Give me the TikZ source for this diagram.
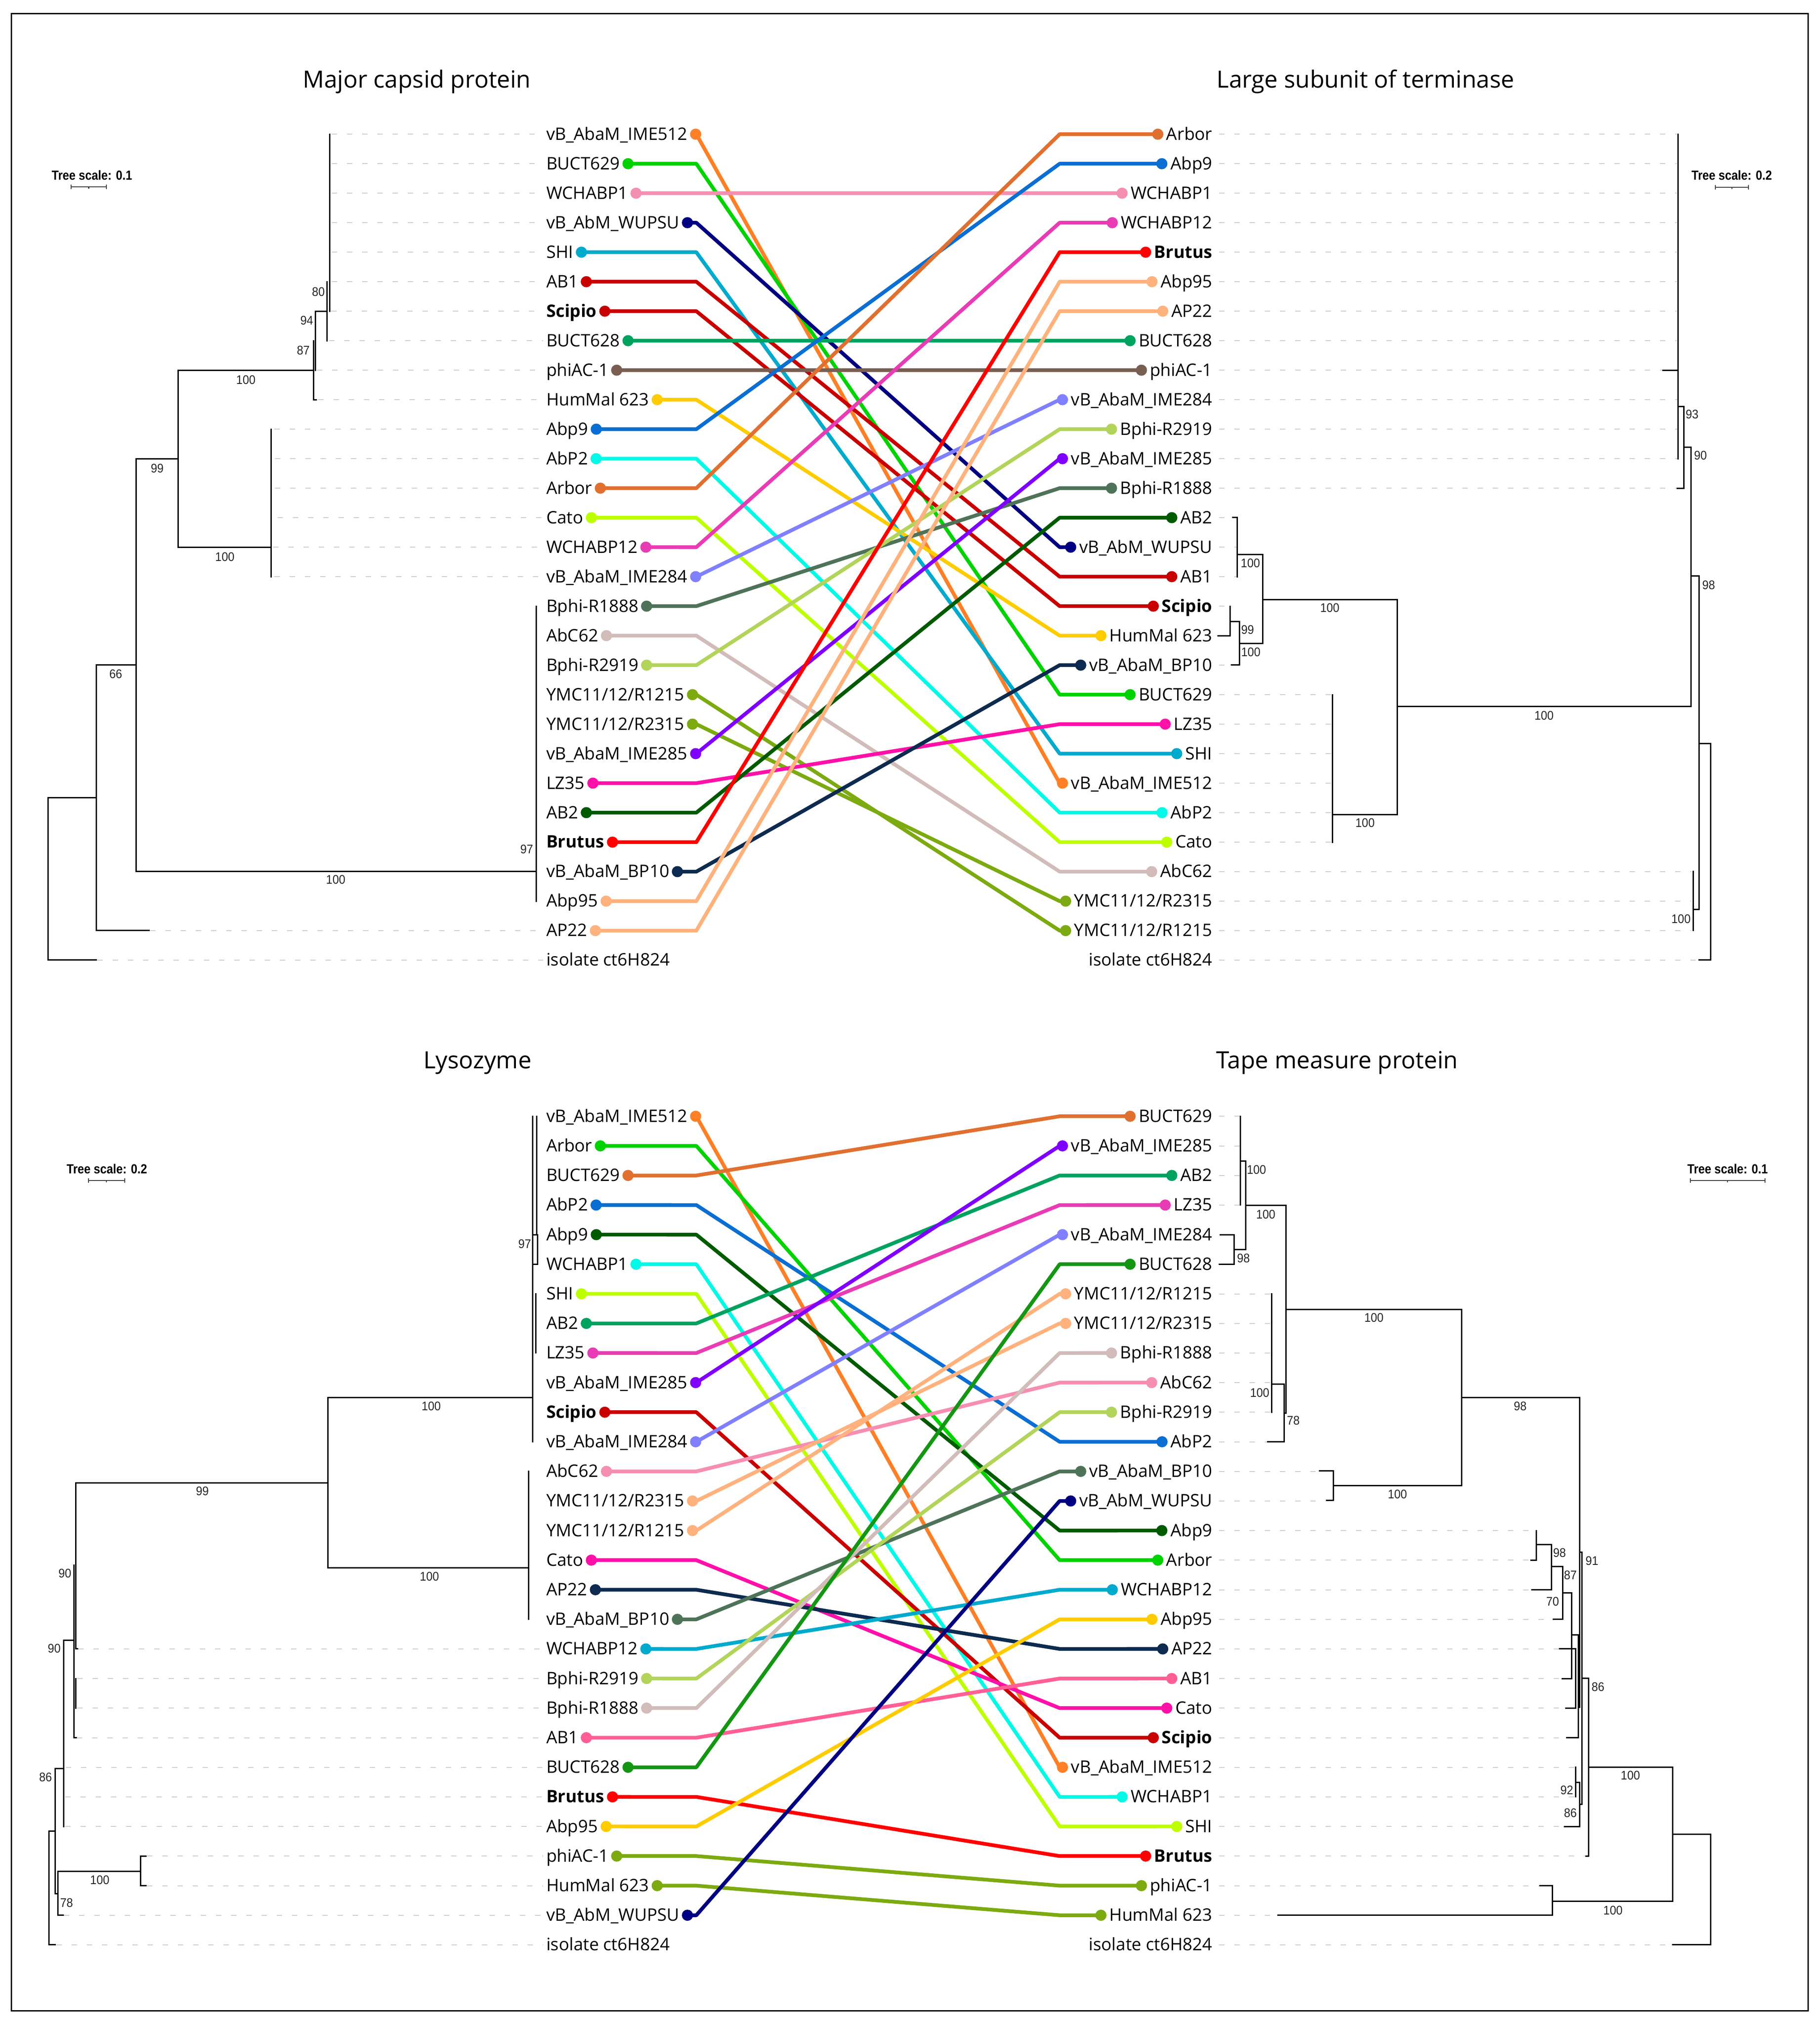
\documentclass[tikz,border=0pt]{standalone}
\usepackage{fontspec}
\setmainfont{Open Sans}
\newfontfamily\bootfam{Liberation Sans}[FakeStretch=0.92]
\newfontfamily\scalefam{Liberation Sans}[FakeStretch=0.88]
\usetikzlibrary{calc}
\pgfmathdeclarefunction{rowT}{1}{\pgfmathparse{104+22.857*#1}}
\pgfmathdeclarefunction{rowB}{1}{\pgfmathparse{865+22.93*#1}}
\newcommand\labfont{\fontsize{38.5}{44}\selectfont}
\newcommand\titfont{\fontsize{53}{60}\selectfont}
\newcommand\bootfont{\bootfam\fontsize{28}{30}\selectfont}
\newcommand\scalefont{\scalefam\bfseries\fontsize{29.5}{32}\selectfont}
\definecolor{cOrange}{RGB}{255,127,39}
\definecolor{cGreen}{RGB}{0,210,0}
\definecolor{cPink}{RGB}{245,143,178}
\definecolor{cNavy}{RGB}{0,0,128}
\definecolor{cSky}{RGB}{0,170,205}
\definecolor{cDarkRed}{RGB}{200,0,0}
\definecolor{cTeal}{RGB}{0,162,96}
\definecolor{cBrown}{RGB}{121,94,82}
\definecolor{cYellow}{RGB}{255,204,0}
\definecolor{cBlue}{RGB}{10,110,210}
\definecolor{cAqua}{RGB}{0,250,230}
\definecolor{cBurnt}{RGB}{224,112,48}
\definecolor{cLime}{RGB}{190,255,0}
\definecolor{cMagenta}{RGB}{232,60,180}
\definecolor{cPeri}{RGB}{128,128,255}
\definecolor{cGrayGreen}{RGB}{78,115,88}
\definecolor{cTaupe}{RGB}{210,188,186}
\definecolor{cOlive}{RGB}{178,212,90}
\definecolor{cOliveDark}{RGB}{124,170,16}
\definecolor{cViolet}{RGB}{127,0,255}
\definecolor{cHot}{RGB}{255,16,168}
\definecolor{cDarkGreen}{RGB}{0,90,0}
\definecolor{cRed}{RGB}{255,0,0}
\definecolor{cDeepNavy}{RGB}{13,42,79}
\definecolor{cPeach}{RGB}{255,178,125}
\definecolor{cRose}{RGB}{255,95,150}
\definecolor{cGreen2}{RGB}{20,150,20}
\definecolor{dashgray}{RGB}{205,205,205}
\begin{document}
\begin{tikzpicture}[x=2.887pt,y=-2.887pt,
  tree/.style={line width=3pt,black,line cap=rect},
  tipdash/.style={line width=2pt,dashgray,dash pattern=on 12pt off 22pt},
  conn/.style={line width=8.3pt,line join=round,draw=#1},
  lab/.style={font=\labfont,inner sep=0pt,anchor=base west},
  rlab/.style={font=\labfont,inner sep=0pt,anchor=base east},
  boot/.style={font=\bootfont,inner sep=0pt,text=black!85},
  title/.style={font=\titfont,inner sep=0pt,anchor=base},
  sclab/.style={font=\scalefont,inner sep=0pt},
  scbar/.style={line width=2.2pt,black!75}]
\useasboundingbox (0,0) rectangle (1410.1,1568.4);
\draw[line width=3pt] (9,10.5) rectangle (1401,1558);

% ---------- titles ----------
\node[title] (t1) at (323,68) {Major capsid protein};
\node[title] (t2) at (1058,68) {Large subunit of terminase};
\node[title] (t3) at (370,828) {Lysozyme};
\node[title] (t4) at (1036,828) {Tape measure protein};

% ---------- tree scales ----------
\node[sclab] (s1) at (71.2,135.7) {Tree scale: 0.1};
\draw[scbar] (55.2,144.9) -- (82.3,144.9);
\draw[scbar] (55.2,143.2) -- (55.2,146.6) (82.3,143.2) -- (82.3,146.6) (68.75,144.9) -- (68.75,146.3);
\node[sclab] (s2) at (1341.7,135.8) {Tree scale: 0.2};
\draw[scbar] (1329.1,145) -- (1354.8,145);
\draw[scbar] (1329.1,143.3) -- (1329.1,146.7) (1354.8,143.3) -- (1354.8,146.7) (1341.9,145) -- (1341.9,146.4);
\node[sclab] (s3) at (82.8,905.7) {Tree scale: 0.2};
\draw[scbar] (68.5,914.7) -- (96.6,914.7);
\draw[scbar] (68.5,913) -- (68.5,916.4) (96.6,913) -- (96.6,916.4) (82.5,914.7) -- (82.5,916.1);
\node[sclab] (s4) at (1338.5,905.7) {Tree scale: 0.1};
\draw[scbar] (1309.6,914.7) -- (1367.4,914.7);
\draw[scbar] (1309.6,913) -- (1309.6,916.4) (1367.4,913) -- (1367.4,916.4) (1338.5,914.7) -- (1338.5,916.1);

% ---------- labels ----------
\foreach \i/\nm in {0/{vB\_AbaM\_IME512},1/BUCT629,2/WCHABP1,3/{vB\_AbM\_WUPSU},4/SHI,5/AB1,6/{\textbf{Scipio}},7/BUCT628,8/phiAC-1,9/{HumMal 623},10/Abp9,11/AbP2,12/Arbor,13/Cato,14/WCHABP12,15/{vB\_AbaM\_IME284},16/Bphi-R1888,17/AbC62,18/Bphi-R2919,19/{YMC11/12/R1215},20/{YMC11/12/R2315},21/{vB\_AbaM\_IME285},22/LZ35,23/AB2,24/{\textbf{Brutus}},25/{vB\_AbaM\_BP10},26/Abp95,27/AP22,28/{isolate ct6H824}}{
  \node[lab] (TL\i) at (423.2,{rowT(\i)+4.5}) {\nm};
  \coordinate (TLd\i) at ($(TL\i.base east)+(18pt,13pt)$);
}
\foreach \i/\nm in {0/Arbor,1/Abp9,2/WCHABP1,3/WCHABP12,4/{\textbf{Brutus}},5/Abp95,6/AP22,7/BUCT628,8/phiAC-1,9/{vB\_AbaM\_IME284},10/Bphi-R2919,11/{vB\_AbaM\_IME285},12/Bphi-R1888,13/AB2,14/{vB\_AbM\_WUPSU},15/AB1,16/{\textbf{Scipio}},17/{HumMal 623},18/{vB\_AbaM\_BP10},19/BUCT629,20/LZ35,21/SHI,22/{vB\_AbaM\_IME512},23/AbP2,24/Cato,25/AbC62,26/{YMC11/12/R2315},27/{YMC11/12/R1215},28/{isolate ct6H824}}{
  \node[rlab] (TR\i) at (939.3,{rowT(\i)+4.5}) {\nm};
  \coordinate (TRd\i) at ($(TR\i.base west)+(-19pt,13pt)$);
}
\foreach \i/\nm in {0/{vB\_AbaM\_IME512},1/Arbor,2/BUCT629,3/AbP2,4/Abp9,5/WCHABP1,6/SHI,7/AB2,8/LZ35,9/{vB\_AbaM\_IME285},10/{\textbf{Scipio}},11/{vB\_AbaM\_IME284},12/AbC62,13/{YMC11/12/R2315},14/{YMC11/12/R1215},15/Cato,16/AP22,17/{vB\_AbaM\_BP10},18/WCHABP12,19/Bphi-R2919,20/Bphi-R1888,21/AB1,22/BUCT628,23/{\textbf{Brutus}},24/Abp95,25/phiAC-1,26/{HumMal 623},27/{vB\_AbM\_WUPSU},28/{isolate ct6H824}}{
  \node[lab] (BL\i) at (423.2,{rowB(\i)+4.5}) {\nm};
  \coordinate (BLd\i) at ($(BL\i.base east)+(18pt,13pt)$);
}
\foreach \i/\nm in {0/BUCT629,1/{vB\_AbaM\_IME285},2/AB2,3/LZ35,4/{vB\_AbaM\_IME284},5/BUCT628,6/{YMC11/12/R1215},7/{YMC11/12/R2315},8/Bphi-R1888,9/AbC62,10/Bphi-R2919,11/AbP2,12/{vB\_AbaM\_BP10},13/{vB\_AbM\_WUPSU},14/Abp9,15/Arbor,16/WCHABP12,17/Abp95,18/AP22,19/AB1,20/Cato,21/{\textbf{Scipio}},22/{vB\_AbaM\_IME512},23/WCHABP1,24/SHI,25/{\textbf{Brutus}},26/phiAC-1,27/{HumMal 623},28/{isolate ct6H824}}{
  \node[rlab] (BR\i) at (939.3,{rowB(\i)+4.5}) {\nm};
  \coordinate (BRd\i) at ($(BR\i.base west)+(-19pt,13pt)$);
}

% ---------- dashed tip guides ----------
\foreach \i/\x in {0/257,1/257,2/257,3/257,4/257,5/257,6/256.5,7/255,8/245.5,9/246.5,10/212.5,11/213,12/213,13/215,14/211.5,15/212.5,27/116.5,28/75.5}
  \draw[tipdash] (\x,{rowT(\i)}) -- (421,{rowT(\i)});
\foreach \i/\x in {0/1299,1/1299,2/1299,3/1299,4/1299,5/1299,6/1299,7/1299,8/1287.5,9/1299.5,10/1299.5,11/1299.5,12/1298.5,13/954.5,14/958,15/958,16/952.5,18/953.5,19/1031,20/1031,21/1031,22/1031,23/1031,24/1031,25/1310.5,26/1310.5,27/1310.5,28/1316}
  \draw[tipdash] (944.6,{rowT(\i)}) -- (\x,{rowT(\i)});
\foreach \i/\x in {18/60.5,19/60,20/60,21/59.5,22/51,23/50.5,24/50.5,25/114,26/114,27/49.5,28/43.5}
  \draw[tipdash] (\x,{rowB(\i)}) -- (421,{rowB(\i)});
\foreach \i/\x in {0/960.5,1/960.5,2/960.5,3/960.5,6/985,7/985,8/985,9/985,10/985,11/982,12/1022,13/1027.5,14/1190,15/1186,16/1186.5,17/1203,18/1208,19/1210,20/1212.5,21/1213.5,22/1220.5,23/1220.5,24/1211.5,25/1228,26/1193,27/990,28/1296}
  \draw[tipdash] (944.6,{rowB(\i)}) -- (\x,{rowB(\i)});

% ---------- tree: major capsid protein ----------
\draw[tree] (74.6,618) -- (37.3,618) -- (37.3,744) -- (74.6,744);
\draw[tree] (105.5,515.4) -- (74.6,515.4) -- (74.6,721.1) -- (115.4,721.1);
\draw[tree] (138,355.4) -- (105.5,355.4) -- (105.5,675.4) -- (415.5,675.4);
\draw[tree] (243,286.9) -- (138,286.9) -- (138,424) -- (210,424);
\draw[tree] (210,332.6) -- (210,446.9);
\draw[tree] (243,264) -- (243,309.7) -- (245,309.7);
\draw[tree] (244.5,286.9) -- (244.5,241.1) -- (253.5,241.1);
\draw[tree] (253.5,218.3) -- (253.5,264);
\draw[tree] (255.5,104) -- (255.5,241.1);
\draw[tree] (415.5,469.7) -- (415.5,698.3);
\node[boot] (bt1) at (246.7,226.3) {80};
\node[boot] (bt2) at (237.7,248.4) {94};
\node[boot] (bt3) at (235,271.5) {87};
\node[boot] (bt4) at (190.5,294.4) {100};
\node[boot] (bt5) at (121.8,362.9) {99};
\node[boot] (bt6) at (174.2,431.6) {100};
\node[boot] (bt7) at (89.7,522.3) {66};
\node[boot] (bt8) at (260.1,681.7) {100};
\node[boot] (bt9) at (408.1,657.9) {97};

% ---------- tree: large subunit of terminase ----------
\draw[tree] (1316.5,576.2) -- (1325.3,576.2) -- (1325.3,744) -- (1316.5,744);
\draw[tree] (1310.3,446.2) -- (1316.5,446.2) -- (1316.5,704.7) -- (1312.5,704.7);
\draw[tree] (1311.8,675.4) -- (1311.8,721.1);
\draw[tree] (1304.6,346.5) -- (1310.3,346.5) -- (1310.3,547.6) -- (1082.7,547.6);
\draw[tree] (1300.5,315) -- (1304.6,315) -- (1304.6,378.3) -- (1299.3,378.3);
\draw[tree] (1300.2,104) -- (1300.2,355.4);
\draw[tree] (1288.3,286.9) -- (1300.2,286.9);
\draw[tree] (978.2,464.7) -- (1082.7,464.7) -- (1082.7,631.3) -- (1032.5,631.3);
\draw[tree] (958.7,429.8) -- (978.2,429.8) -- (978.2,498.6) -- (960.3,498.6);
\draw[tree] (955,401.1) -- (958.7,401.1) -- (958.7,446.9);
\draw[tree] (953.1,481.6) -- (960.3,481.6) -- (960.3,515.4) -- (954,515.4);
\draw[tree] (953.1,469.7) -- (953.1,492.6) -- (943.6,492.6);
\draw[tree] (1032.5,538.3) -- (1032.5,652.6);
\node[boot] (bu1) at (1311,321) {93};
\node[boot] (bu2) at (1317.5,353) {90};
\node[boot] (bu3) at (1323.8,453.4) {98};
\node[boot] (bu4) at (1302.4,712) {100};
\node[boot] (bu5) at (1196.3,554.6) {100};
\node[boot] (bu6) at (1030.3,471) {100};
\node[boot] (bu7) at (968.8,436.4) {100};
\node[boot] (bu8) at (966.6,488) {99};
\node[boot] (bu9) at (969.1,505.4) {100};
\node[boot] (bu10) at (1057.6,637.5) {100};

% ---------- tree: lysozyme ----------
\draw[tree] (412.8,865) -- (412.8,1117.2);
\draw[tree] (415.8,865) -- (415.8,956.7);
\draw[tree] (413.6,956.7) -- (416.4,956.7) -- (416.4,979.7) -- (413.6,979.7);
\draw[tree] (415.3,1002.6) -- (415.3,1048.4);
\draw[tree] (254,1083) -- (412.8,1083);
\draw[tree] (409.5,1140.2) -- (409.5,1254.8);
\draw[tree] (58.8,1149.2) -- (254,1149.2);
\draw[tree] (254,1083) -- (254,1215) -- (409.5,1215);
\draw[tree] (58.8,1149.2) -- (58.8,1277.7) -- (60,1277.7);
\draw[tree] (57.2,1213) -- (57.2,1346.5) -- (59,1346.5);
\draw[tree] (49.2,1271) -- (57.2,1271);
\draw[tree] (58.8,1300.7) -- (58.8,1323.6);
\draw[tree] (49.2,1271) -- (49.2,1415.3);
\draw[tree] (42.8,1370.4) -- (49.2,1370.4);
\draw[tree] (42.8,1370.4) -- (42.8,1467.4) -- (45,1467.4);
\draw[tree] (48.9,1484.1) -- (45,1484.1) -- (45,1450) -- (109,1450);
\draw[tree] (113.2,1438.3) -- (109,1438.3) -- (109,1461.2) -- (113.2,1461.2);
\draw[tree] (42.8,1419) -- (37.8,1419) -- (37.8,1507) -- (42.8,1507);
\node[boot] (bl1) at (406.5,964) {97};
\node[boot] (bl2) at (334.1,1089.7) {100};
\node[boot] (bl3) at (332.7,1221.6) {100};
\node[boot] (bl4) at (156.8,1155.5) {99};
\node[boot] (bl5) at (50.3,1219.2) {90};
\node[boot] (bl6) at (42,1277.3) {90};
\node[boot] (bl7) at (35.3,1377) {86};
\node[boot] (bl8) at (77.3,1456.9) {100};
\node[boot] (bl9) at (51.6,1474.4) {78};

% ---------- tree: tape measure protein ----------
\draw[tree] (960.9,865) -- (960.9,933.8);
\draw[tree] (960.9,899.6) -- (965,899.6) -- (965,968.3) -- (956.2,968.3);
\draw[tree] (965,934.1) -- (996.4,934.1);
\draw[tree] (945.5,956.7) -- (956.2,956.7) -- (956.2,979.7) -- (944.6,979.7);
\draw[tree] (996.4,934.1) -- (996.4,1095) -- (994.8,1095);
\draw[tree] (985.4,1072.6) -- (994.8,1072.6) -- (994.8,1117.2) -- (982.2,1117.2);
\draw[tree] (985.4,1002.6) -- (985.4,1094.3);
\draw[tree] (996.4,1014.6) -- (1132.3,1014.6) -- (1132.3,1151.1) -- (1033.1,1151.1);
\draw[tree] (1132.3,1083.1) -- (1223.9,1083.1) -- (1223.9,1323);
\draw[tree] (1022.4,1139.7) -- (1033.1,1139.7) -- (1033.1,1162.6) -- (1027.8,1162.6);
\draw[tree] (1223.9,1202.9) -- (1225.5,1202.9) -- (1225.5,1398.2) -- (1223.9,1398.2);
\draw[tree] (1186.3,1209) -- (1190.4,1209) -- (1190.4,1186);
\draw[tree] (1190.4,1196.8) -- (1202,1196.8);
\draw[tree] (1186.9,1231.9) -- (1202,1231.9) -- (1202,1196.8);
\draw[tree] (1202,1213.8) -- (1210.8,1213.8) -- (1210.8,1254.8) -- (1203.5,1254.8);
\draw[tree] (1210.8,1234.2) -- (1217.7,1234.2) -- (1217.7,1300.7) -- (1210.5,1300.7);
\draw[tree] (1208.3,1277.7) -- (1220.8,1277.7) -- (1220.8,1323.6) -- (1213,1323.6);
\draw[tree] (1217.7,1267) -- (1222.9,1267) -- (1222.9,1346.5) -- (1214,1346.5);
\draw[tree] (1222.9,1323) -- (1223.9,1323);
\draw[tree] (1220.8,1369.5) -- (1220.8,1392.4);
\draw[tree] (1220.8,1381) -- (1223.9,1381) -- (1223.9,1415.3) -- (1212,1415.3);
\draw[tree] (1225.5,1300.4) -- (1230.9,1300.4) -- (1230.9,1438.3) -- (1228.6,1438.3);
\draw[tree] (1230.9,1369.4) -- (1296.1,1369.4) -- (1296.1,1473.4) -- (1202.9,1473.4);
\draw[tree] (1193.2,1461.2) -- (1202.9,1461.2) -- (1202.9,1484.1) -- (990.1,1484.1);
\draw[tree] (1296.1,1421.5) -- (1325.3,1421.5) -- (1325.3,1507) -- (1296.1,1507);
\node[boot] (br1) at (973.5,906.4) {100};
\node[boot] (br2) at (980.7,940.9) {100};
\node[boot] (br3) at (963.4,975) {98};
\node[boot] (br4) at (1064.5,1021.1) {100};
\node[boot] (br5) at (976,1079.4) {100};
\node[boot] (br6) at (1002,1100.8) {78};
\node[boot] (br7) at (1177.8,1089.6) {98};
\node[boot] (br8) at (1082.7,1157.9) {100};
\node[boot] (br9) at (1233.4,1209.4) {91};
\node[boot] (br10) at (1208.3,1203.4) {98};
\node[boot] (br11) at (1216.7,1220.4) {87};
\node[boot] (br12) at (1202.9,1241.1) {70};
\node[boot] (br13) at (1238.1,1307.2) {86};
\node[boot] (br14) at (1263.2,1375.8) {100};
\node[boot] (br15) at (1213.9,1387.3) {92};
\node[boot] (br16) at (1216.7,1404.8) {86};
\node[boot] (br17) at (1249.7,1480.3) {100};

% ---------- connectors ----------
\foreach \l/\r/\c in {0/22/cOrange,1/19/cGreen,2/2/cPink,3/14/cNavy,4/21/cSky,5/15/cDarkRed,6/16/cDarkRed,7/7/cTeal,8/8/cBrown,9/17/cYellow,10/1/cBlue,11/23/cAqua,12/0/cBurnt,13/24/cLime,14/3/cMagenta,15/9/cPeri,16/12/cGrayGreen,17/25/cTaupe,18/10/cOlive,19/27/cOliveDark,20/26/cOliveDark,21/11/cViolet,22/20/cHot,23/13/cDarkGreen,24/4/cRed,25/18/cDeepNavy,26/5/cPeach,27/6/cPeach}
  \draw[conn=\c] (TLd\l) -- (539.5,{rowT(\l)}) -- (821,{rowT(\r)}) -- (TRd\r);
\foreach \l/\r/\c in {0/22/cOrange,1/19/cGreen,2/2/cPink,3/14/cNavy,4/21/cSky,5/15/cDarkRed,6/16/cDarkRed,7/7/cTeal,8/8/cBrown,9/17/cYellow,10/1/cBlue,11/23/cAqua,12/0/cBurnt,13/24/cLime,14/3/cMagenta,15/9/cPeri,16/12/cGrayGreen,17/25/cTaupe,18/10/cOlive,19/27/cOliveDark,20/26/cOliveDark,21/11/cViolet,22/20/cHot,23/13/cDarkGreen,24/4/cRed,25/18/cDeepNavy,26/5/cPeach,27/6/cPeach}
  {\fill[\c] (TLd\l) circle[radius=12.5pt]; \fill[\c] (TRd\r) circle[radius=12.5pt];}
\foreach \l/\r/\c in {0/22/cOrange,1/15/cGreen,2/0/cBurnt,3/11/cBlue,4/14/cDarkGreen,5/23/cAqua,6/24/cLime,7/2/cTeal,8/3/cMagenta,9/1/cViolet,10/21/cDarkRed,11/4/cPeri,12/9/cPink,13/7/cPeach,14/6/cPeach,15/20/cHot,16/18/cDeepNavy,17/12/cGrayGreen,18/16/cSky,19/10/cOlive,20/8/cTaupe,21/19/cRose,22/5/cGreen2,23/25/cRed,24/17/cYellow,25/26/cOliveDark,26/27/cOliveDark,27/13/cNavy}
  \draw[conn=\c] (BLd\l) -- (539.5,{rowB(\l)}) -- (821,{rowB(\r)}) -- (BRd\r);
\foreach \l/\r/\c in {0/22/cOrange,1/15/cGreen,2/0/cBurnt,3/11/cBlue,4/14/cDarkGreen,5/23/cAqua,6/24/cLime,7/2/cTeal,8/3/cMagenta,9/1/cViolet,10/21/cDarkRed,11/4/cPeri,12/9/cPink,13/7/cPeach,14/6/cPeach,15/20/cHot,16/18/cDeepNavy,17/12/cGrayGreen,18/16/cSky,19/10/cOlive,20/8/cTaupe,21/19/cRose,22/5/cGreen2,23/25/cRed,24/17/cYellow,25/26/cOliveDark,26/27/cOliveDark,27/13/cNavy}
  {\fill[\c] (BLd\l) circle[radius=12.5pt]; \fill[\c] (BRd\r) circle[radius=12.5pt];}
\end{tikzpicture}
\end{document}
